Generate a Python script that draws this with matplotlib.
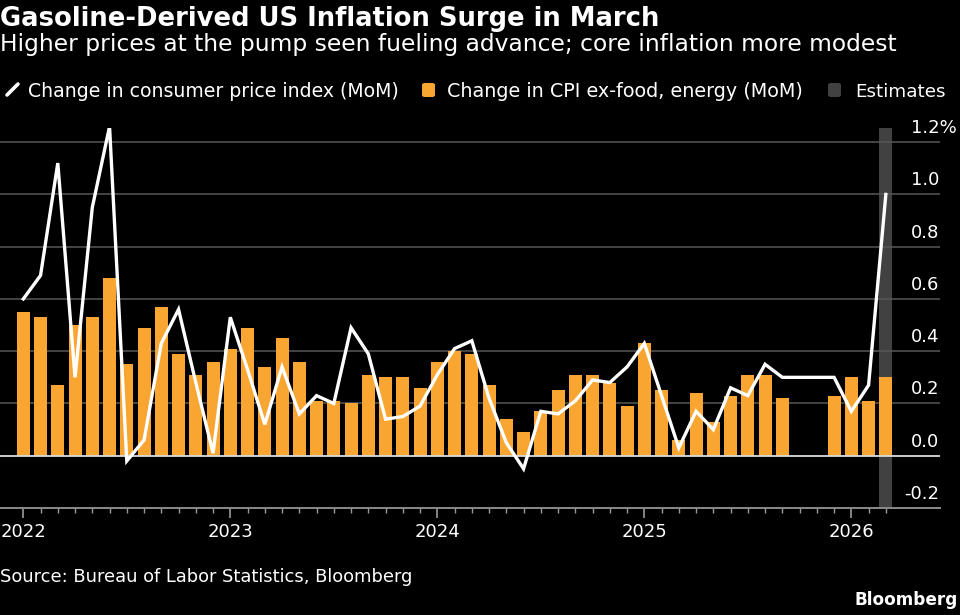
## CPI vs core CPI month-over-month chart (dark theme)
import numpy as np
import pandas as pd
import matplotlib
matplotlib.use("Agg")
import matplotlib.pyplot as plt
from matplotlib.patches import FancyBboxPatch
from matplotlib.lines import Line2D
from matplotlib.transforms import offset_copy

## Data (percent change, month over month); None = no release
months = pd.period_range("2022-01", "2026-03", freq="M")
cpi = [0.60, 0.69, 1.12, 0.30, 0.95, 1.26, -0.02, 0.06, 0.43, 0.56, 0.28, 0.01,
       0.53, 0.33, 0.12, 0.34, 0.16, 0.23, 0.20, 0.49, 0.39, 0.14, 0.15, 0.19,
       0.31, 0.41, 0.44, 0.22, 0.05, -0.05, 0.17, 0.16, 0.21, 0.29, 0.28, 0.34,
       0.43, 0.23, 0.03, 0.17, 0.10, 0.26, 0.23, 0.35, 0.30, None, None, 0.30,
       0.17, 0.27, 1.00]
core = [0.55, 0.53, 0.27, 0.50, 0.53, 0.68, 0.35, 0.49, 0.57, 0.39, 0.31, 0.36,
        0.41, 0.49, 0.34, 0.45, 0.36, 0.21, 0.21, 0.20, 0.31, 0.30, 0.30, 0.26,
        0.36, 0.40, 0.39, 0.27, 0.14, 0.09, 0.17, 0.25, 0.31, 0.31, 0.28, 0.19,
        0.43, 0.25, 0.06, 0.24, 0.13, 0.23, 0.31, 0.31, 0.22, None, None, 0.23,
        0.30, 0.21, 0.30]
estimate_months = ["2026-03"]
yticks = [-0.2, 0.0, 0.2, 0.4, 0.6, 0.8, 1.0, 1.2]
year_labels = ["2022", "2023", "2024", "2025", "2026"]

ORANGE = "#f9a531"
BAND = "#414141"
GRID = "#575757"
W, H = 960, 615

plt.rcParams["font.family"] = ["DejaVu Sans"]
fig = plt.figure(figsize=(9.6, 6.15), dpi=100, facecolor="black")

def fy(px):
    return 1 - px / H

ax = fig.add_axes([0, 1 - 508 / H, 940 / W, (508 - 127.8) / H], facecolor="black")

x = np.arange(len(months))
start = months[0]
cpi_s = pd.Series(cpi, index=x, dtype=float)
core_s = pd.Series(core, index=x, dtype=float)

# estimates band
for m in estimate_months:
    i = (pd.Period(m, freq="M") - start).n
    ax.axvspan(i - 0.38, i + 0.38, color=BAND, zorder=0, lw=0)

# gridlines
for v in yticks[1:]:
    if v == 0:
        ax.axhline(0, color="#d6dde0", lw=1.3, zorder=3)
    else:
        ax.axhline(v, color=GRID, lw=1.1, zorder=1)

cm = core_s.dropna()
ax.bar(cm.index, cm.values, width=0.75, color=ORANGE, zorder=2)
cl = cpi_s.dropna()
ax.plot(cl.index, cl.values, color="white", lw=2.4, zorder=4, solid_joinstyle="miter")

ax.set_xlim(-1.35, 53.14)
ax.set_ylim(-0.2, 1.255)

for s in ["top", "left", "right"]:
    ax.spines[s].set_visible(False)
ax.spines["bottom"].set_color("#8a8a8a")
ax.spines["bottom"].set_linewidth(1.4)

major = [i for i in x if months[i].month == 1]
minor = [i for i in x if months[i].month != 1]
ax.set_xticks(major)
ax.set_xticklabels(year_labels)
ax.set_xticks(minor, minor=True)
ax.tick_params(axis="x", which="major", length=7, width=1.2, color="#9a9a9a",
               labelcolor="white", labelsize=13, pad=4)
ax.tick_params(axis="x", which="minor", length=3.5, width=1.0, color="#9a9a9a")
ax.set_yticks([])

# right-side value labels sitting above gridlines
ytr = offset_copy(ax.get_yaxis_transform(), fig=fig, y=9, units="dots")
for v in yticks:
    if v == yticks[-1]:
        ax.text(956.5 / 940, v, f"{v:.1f}%", transform=ytr, ha="right", va="baseline",
                color="white", fontsize=13, clip_on=False)
    else:
        ax.text(939 / 940, v, f"{v:.1f}", transform=ytr, ha="right", va="baseline",
                color="white", fontsize=13, clip_on=False)

## Titles
fig.text(0, fy(26), "Gasoline-Derived US Inflation Surge in March", color="white",
         fontsize=18.6, fontweight="bold", va="baseline", ha="left")
fig.text(0, fy(51), "Higher prices at the pump seen fueling advance; core inflation more modest",
         color="white", fontsize=16.8, va="baseline", ha="left")

## Legend
fig.add_artist(Line2D([7 / W, 18 / W], [fy(95), fy(84)], color="white", lw=2.6,
                      transform=fig.transFigure, solid_capstyle="round"))
fig.text(28 / W, fy(97), "Change in consumer price index (MoM)", color="white",
         fontsize=13.6, va="baseline")
for x0, col in [(422, ORANGE), (828, BAND)]:
    fig.add_artist(FancyBboxPatch((x0 / W, fy(97)), 13 / W, 14 / H,
                                  boxstyle="round,pad=0,rounding_size=0.003",
                                  transform=fig.transFigure, color=col, lw=0))
fig.text(447 / W, fy(97), "Change in CPI ex-food, energy (MoM)", color="white",
         fontsize=13.8, va="baseline")
fig.text(855 / W, fy(97), "Estimates", color="white", fontsize=13.2, va="baseline")

## Footer
fig.text(0, fy(582), "Source: Bureau of Labor Statistics, Bloomberg", color="white",
         fontsize=12.9, va="baseline")
fig.text(958 / W, fy(605), "Bloomberg", color="white", fontsize=12.2, fontweight="bold",
         va="baseline", ha="right")

fig.savefig("out.png", dpi=100, facecolor="black")
